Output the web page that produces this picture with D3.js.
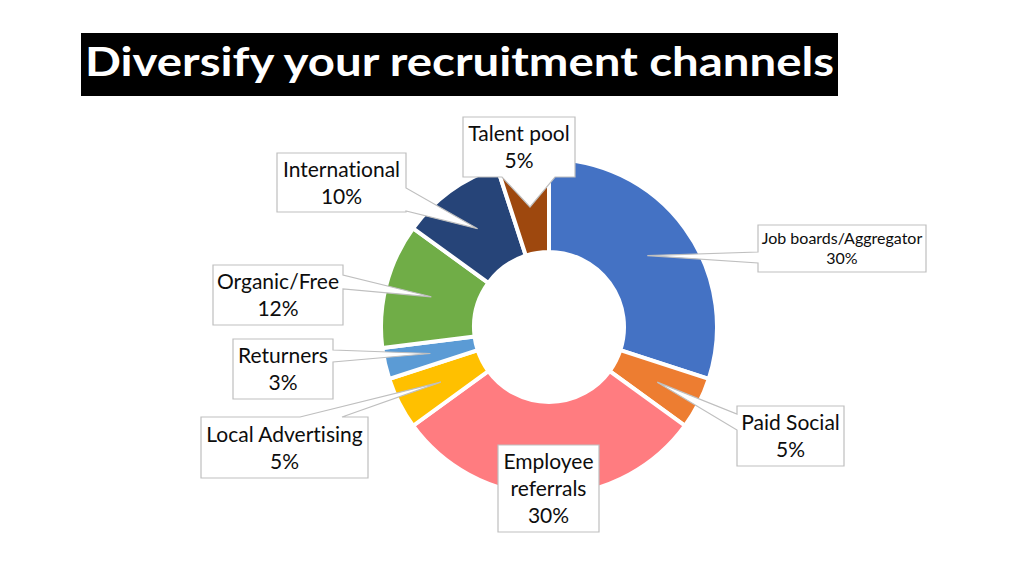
<!DOCTYPE html>
<html>
<head>
<meta charset="utf-8">
<script src="https://cdn.jsdelivr.net/npm/d3@7"></script>
<style>
  html, body { margin: 0; padding: 0; background: #fff; }
  svg { display: block; }
  text { font-family: Lato, "Open Sans", sans-serif; font-variant-ligatures: none; }
</style>
</head>
<body>
<svg id="chart" width="1024" height="576"></svg>
<script>
'use strict';

// chart data
const categories = ['Job boards/Aggregator', 'Paid Social', 'Employee referrals', 'Local Advertising',
  'Returners', 'Organic/Free', 'International', 'Talent pool'];
const shares = [30, 5, 30, 5, 3, 12, 10, 5];
const sliceColors = ['#4472C4', '#ED7D31', '#FF7C80', '#FFC000', '#5B9BD5', '#70AD47', '#264478', '#9E480E'];
// how each category name wraps inside its callout
const nameLines = [['Job boards/Aggregator'], ['Paid Social'], ['Employee', 'referrals'], ['Local Advertising'],
  ['Returners'], ['Organic/Free'], ['International'], ['Talent pool']];
const title = 'Diversify your recruitment channels';

// callout layout: box [x0,y0,x1,y1], side the pointer leaves from, pointer base along that side
const callouts = [
  { box: [758, 225, 926, 272], side: 'left', base: [252, 263], size: 16, lh: 20 },
  { box: [737, 406, 844, 466], side: 'left', base: [414, 430], size: 21, lh: 27 },
  { box: [498, 445, 599, 532], side: 'none', base: [0, 0], size: 21, lh: 27 },
  { box: [201, 417, 368, 478], side: 'top', base: [300, 342], size: 21, lh: 27 },
  { box: [233, 339, 333, 399], side: 'right', base: [350, 362], size: 21, lh: 27 },
  { box: [213, 265, 343, 325], side: 'right', base: [275, 289], size: 21, lh: 27 },
  { box: [277, 153, 406, 212], side: 'right', base: [188, 211], size: 21, lh: 27 },
  { box: [463, 117, 575, 177], side: 'bottom', base: [502, 555], size: 21, lh: 27 },
];

const svg = d3.select('#chart');
const cx = 549, cy = 327;
const rIn = 77, rOut = 166; // visible radii
const gap = 4;               // white separator width

// title bar
svg.append('rect')
  .attr('x', 81).attr('y', 33).attr('width', 757).attr('height', 63)
  .attr('fill', '#000');
svg.append('text')
  .attr('x', 85).attr('y', 76)
  .attr('fill', '#fff')
  .style('font-size', '41px')
  .style('font-weight', 700)
  .attr('textLength', 749)
  .attr('lengthAdjust', 'spacingAndGlyphs')
  .text(title);

// donut
const data = categories.map((c, i) => ({ name: c, value: shares[i], i: i }));
const pie = d3.pie().sort(null).value((d) => d.value);
const arcs = pie(data);
const arc = d3.arc().innerRadius(rIn - gap / 2).outerRadius(rOut + gap / 2);
const tipArc = d3.arc().innerRadius(rIn).outerRadius(rOut);

const g = svg.append('g').attr('transform', `translate(${cx},${cy})`);
g.selectAll('path')
  .data(arcs)
  .join('path')
  .attr('d', arc)
  .attr('fill', (d) => sliceColors[d.data.i])
  .attr('stroke', '#fff')
  .attr('stroke-width', gap)
  .attr('stroke-linejoin', 'miter');

// rectangle outline with a wedge pointer inserted on one side
const calloutPath = function (c, tip) {
  const [x0, y0, x1, y1] = c.box;
  const [a, b] = c.base;
  const [tx, ty] = tip;
  const inside = tx > x0 && tx < x1 && ty > y0 && ty < y1;
  const side = inside ? 'none' : c.side;
  const p = d3.path();
  p.moveTo(x0, y0);
  if (side === 'top') { p.lineTo(a, y0); p.lineTo(tx, ty); p.lineTo(b, y0); }
  p.lineTo(x1, y0);
  if (side === 'right') { p.lineTo(x1, a); p.lineTo(tx, ty); p.lineTo(x1, b); }
  p.lineTo(x1, y1);
  if (side === 'bottom') { p.lineTo(b, y1); p.lineTo(tx, ty); p.lineTo(a, y1); }
  p.lineTo(x0, y1);
  if (side === 'left') { p.lineTo(x0, b); p.lineTo(tx, ty); p.lineTo(x0, a); }
  p.closePath();
  return p.toString();
};

const labels = svg.append('g').selectAll('g')
  .data(arcs)
  .join('g');

labels.append('path')
  .attr('d', (d) => {
    const [px, py] = tipArc.centroid(d);
    return calloutPath(callouts[d.data.i], [cx + px, cy + py]);
  })
  .attr('fill', '#fff')
  .attr('stroke', '#bfbfbf')
  .attr('stroke-width', 1.2);

labels.each(function (d) {
  const c = callouts[d.data.i];
  const lines = nameLines[d.data.i].concat([d.data.value + '%']);
  const mx = (c.box[0] + c.box[2]) / 2;
  const my = (c.box[1] + c.box[3]) / 2;
  const n = lines.length;
  d3.select(this).selectAll('text')
    .data(lines)
    .join('text')
    .attr('x', mx)
    .attr('y', (t, k) => my + (k - (n - 1) / 2) * c.lh + 0.36 * c.size)
    .attr('text-anchor', 'middle')
    .attr('fill', '#0d0d0d')
    .style('font-size', c.size + 'px')
    .text((t) => t);
});
</script>
</body>
</html>
